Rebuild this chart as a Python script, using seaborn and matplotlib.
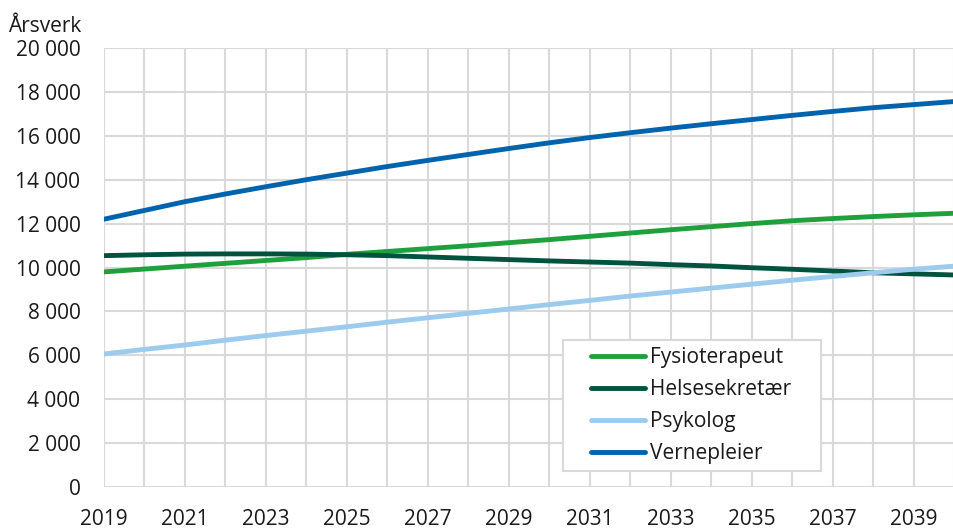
import pandas as pd
import matplotlib
matplotlib.use("Agg")
import matplotlib.pyplot as plt
import seaborn as sns
from matplotlib.lines import Line2D
from matplotlib.legend_handler import HandlerLine2D
from matplotlib.ticker import FuncFormatter

# Data (årsverk per year)
years = list(range(2019, 2041))
fysioterapeut = [9800, 9930, 10060, 10190, 10320, 10450, 10600, 10730, 10860, 10990, 11130,
                 11270, 11420, 11570, 11720, 11860, 12000, 12130, 12230, 12320, 12400, 12470]
helsesekretaer = [10540, 10580, 10610, 10620, 10620, 10610, 10580, 10540, 10480, 10420, 10360,
                  10300, 10250, 10200, 10130, 10070, 9990, 9920, 9840, 9760, 9710, 9660]
psykolog = [6060, 6270, 6470, 6690, 6900, 7100, 7300, 7510, 7710, 7910, 8110,
            8310, 8500, 8700, 8880, 9060, 9240, 9420, 9590, 9760, 9920, 10060]
vernepleier = [12200, 12600, 13000, 13350, 13680, 14000, 14300, 14600, 14880, 15150, 15420,
               15680, 15920, 16140, 16350, 16550, 16740, 16930, 17110, 17280, 17420, 17560]

names = ["Fysioterapeut", "Helsesekretær", "Psykolog", "Vernepleier"]
colors = ["#1fa03c", "#00533f", "#9ccbee", "#0063ad"]
series = [fysioterapeut, helsesekretaer, psykolog, vernepleier]

df = pd.DataFrame({
    "År": years * len(names),
    "Årsverk": [v for s in series for v in s],
    "Yrke": [n for n in names for _ in years],
})

sns.set_theme(style="whitegrid")
plt.rcParams['font.family'] = ['Open Sans', 'DejaVu Sans']

fig = plt.figure(figsize=(9.54, 5.28), dpi=100)
ax = fig.add_axes([104 / 954, 41 / 528, 850 / 954, 439 / 528])

sns.lineplot(data=df, x="År", y="Årsverk", hue="Yrke", palette=dict(zip(names, colors)),
             linewidth=3.5, legend=False, ax=ax)

ax.set_xlim(2019, 2040)
ax.set_ylim(0, 20000)
ax.set_xticks(range(2019, 2041, 2))
ax.set_xticks(range(2019, 2041), minor=True)
ax.set_yticks(range(0, 20001, 2000))
ax.yaxis.set_major_formatter(FuncFormatter(lambda v, p: f"{int(v):,}".replace(",", " ")))
ax.set_xlabel("")
ax.set_ylabel("")

ax.grid(which="both", axis="x", color="#d9d9d9", linewidth=1.5)
ax.grid(which="major", axis="y", color="#d9d9d9", linewidth=1.5)
for s in ax.spines.values():
    s.set_visible(False)
ax.tick_params(which="both", length=0, labelsize=15, colors="#1a1a1a")
ax.tick_params(axis="x", pad=15.5)
ax.tick_params(axis="y", pad=17)

fig.text(81 / 954, 1 - 32 / 528, "Årsverk", ha="right", va="baseline", fontsize=15, color="#1a1a1a")

handles = [Line2D([], [], color=c, linewidth=3.5, solid_capstyle="round") for c in colors]
leg = ax.legend(handles, names, loc="upper left",
                bbox_to_anchor=(0.54, 0.0433, 0.3035, 0.2916), mode="expand",
                borderaxespad=0, borderpad=0.36, fontsize=15, handlelength=3.58,
                handletextpad=0.24, labelspacing=0.52, fancybox=False, framealpha=1,
                edgecolor="#d9d9d9", handler_map={Line2D: HandlerLine2D(xpad=1.0)})
leg.get_frame().set_linewidth(1.5)
for t in leg.get_texts():
    t.set_color("#1a1a1a")

fig.savefig("out.png", dpi=100)
